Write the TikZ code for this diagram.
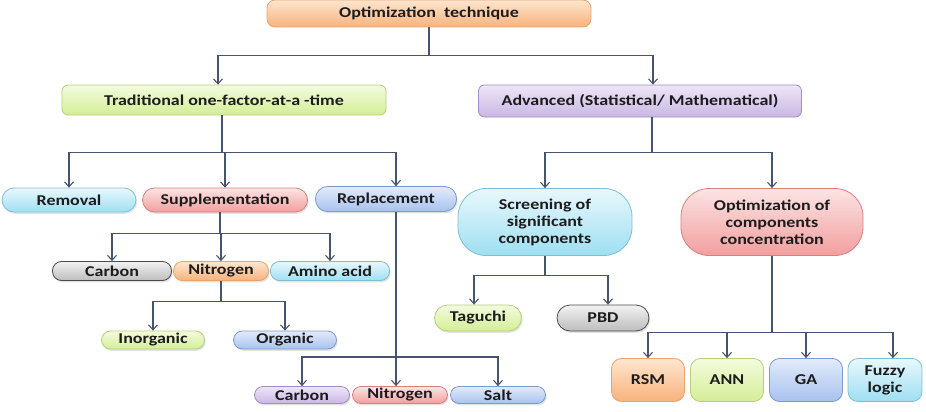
\documentclass[tikz,border=0pt]{standalone}
\usepackage{fontspec}
\setmainfont{Carlito}[FakeStretch=1.2]
\usetikzlibrary{shadows,arrows.meta}

\definecolor{linec}{HTML}{46546E}
\definecolor{txtc}{HTML}{1C1C1C}
\definecolor{orange-t}{HTML}{FDE6CF}\definecolor{orange-b}{HTML}{F8B27C}\definecolor{orange-d}{HTML}{E8A46C}
\definecolor{green-t}{HTML}{F4FBDF}\definecolor{green-b}{HTML}{D4EE96}\definecolor{green-d}{HTML}{B5CF7F}
\definecolor{purple-t}{HTML}{EEE6F7}\definecolor{purple-b}{HTML}{C9B7E4}\definecolor{purple-d}{HTML}{A08CC6}
\definecolor{cyan-t}{HTML}{E8F8FC}\definecolor{cyan-b}{HTML}{9EDFF2}\definecolor{cyan-d}{HTML}{7EBFD2}
\definecolor{pink-t}{HTML}{FCE4E4}\definecolor{pink-b}{HTML}{F29E9E}\definecolor{pink-d}{HTML}{D88080}
\definecolor{blue-t}{HTML}{E2EBFA}\definecolor{blue-b}{HTML}{A8C2EE}\definecolor{blue-d}{HTML}{7E9ACB}
\definecolor{gray-t}{HTML}{F2F2F2}\definecolor{gray-b}{HTML}{BDBDBD}\definecolor{gray-d}{HTML}{4A4A4A}

\tikzset{
  box/.style={draw, line width=0.8pt, rounded corners=6pt, inner sep=0pt, text=txtc,
    font=\bfseries\fontsize{15}{17}\selectfont, align=center,
    drop shadow={shadow xshift=1.2pt, shadow yshift=-1.8pt, opacity=0.22}},
  pill/.style={box, rounded corners=#1},
  pill/.default=9pt,
  fill-in/.style={top color=#1-t, bottom color=#1-b, draw=#1-d},
  link/.style={-{Straight Barb[length=5pt,width=9pt]}, draw=linec, line width=1.1pt}
}

\begin{document}
\begin{tikzpicture}[x=1pt, y=-1pt]
    \useasboundingbox (0,0) rectangle (926,412);
    \begin{scope}[box]
      \node[fill-in=orange, minimum width=324, minimum height=27, rounded corners=8pt] (opt) at (429,13.5) {Optimization\ \ technique};
      \node[fill-in=green, minimum width=324, minimum height=30] (trad) at (224,100) {Traditional one-factor-at-a -time};
      \node[fill-in=purple, minimum width=323, minimum height=32] (adv) at (640,101) {Advanced (Statistical/ Mathematical)};

      \node[pill=12pt, fill-in=cyan, minimum width=134, minimum height=24] (removal) at (69,200) {Removal};
      \node[pill=12pt, fill-in=pink, minimum width=165, minimum height=24] (supp) at (225,200) {Supplementation};
      \node[pill=12pt, fill-in=blue, minimum width=141, minimum height=25] (repl) at (386,199) {Replacement};

      \node[fill-in=cyan, minimum width=174, minimum height=67, rounded corners=28pt] (screen) at (545,222) {Screening of\\significant\\components};
      \node[fill-in=pink, minimum width=182, minimum height=67, rounded corners=28pt] (conc) at (772,222) {Optimization of\\components\\concentration};

      \node[pill, fill-in=gray, minimum width=119, minimum height=19] (carbon) at (112,271) {Carbon};
      \node[pill, fill-in=orange, minimum width=95, minimum height=19] (nitrogen) at (221,271) {Nitrogen};
      \node[pill, fill-in=cyan, minimum width=119, minimum height=19] (amino) at (330,271) {Amino acid};

      \node[pill, fill-in=green, minimum width=103, minimum height=18] (inorg) at (153,340) {Inorganic};
      \node[pill, fill-in=blue, minimum width=103, minimum height=18] (org) at (285,340) {Organic};

      \node[pill=8.5pt, fill-in=purple, minimum width=95, minimum height=17] (carbon-r) at (302,395) {Carbon};
      \node[pill=8.5pt, fill-in=pink, minimum width=95, minimum height=17] (nitrogen-r) at (400,395) {Nitrogen};
      \node[pill=8.5pt, fill-in=blue, minimum width=95, minimum height=17] (salt) at (498,395) {Salt};

      \node[pill=13pt, fill-in=green, minimum width=87, minimum height=26] (taguchi) at (478,318) {Taguchi};
      \node[pill=13pt, fill-in=gray, minimum width=92, minimum height=26] (pbd) at (603,318) {PBD};

      \node[fill-in=orange, minimum width=73, minimum height=43, rounded corners=10pt] (rsm) at (648,380) {RSM};
      \node[fill-in=green, minimum width=73, minimum height=43, rounded corners=10pt] (ann) at (727,380) {ANN};
      \node[fill-in=blue, minimum width=73, minimum height=43, rounded corners=10pt] (ga) at (806,380) {GA};
      \node[fill-in=cyan, minimum width=74, minimum height=43, rounded corners=10pt] (fuzzy) at (885,380) {Fuzzy\\logic};
    \end{scope}
    \coordinate (replbar) at (396,357);

    \draw[link] (opt.south) -- ++(0,28) -| ([xshift=-6pt]trad.north);
    \draw[link] (opt.south) -- ++(0,28) -| ([xshift=13pt]adv.north);

    \draw[link] ([xshift=-2pt]trad.south) -- ++(0,37) -| (removal.north);
    \draw[link] ([xshift=-2pt]trad.south) -- ++(0,37) -| (supp.north);
    \draw[link] ([xshift=-2pt]trad.south) -- ++(0,37) -| ([xshift=10pt]repl.north);

    \draw[link] ([xshift=-5pt]supp.south) -- ++(0,21) -| (carbon.north);
    \draw[link] ([xshift=-5pt]supp.south) -- ++(0,21) -| (nitrogen.north);
    \draw[link] ([xshift=-5pt]supp.south) -- ++(0,21) -| (amino.north);

    \draw[link] (nitrogen.south) -- ++(0,21) -| (inorg.north);
    \draw[link] (nitrogen.south) -- ++(0,21) -| (org.north);

    \draw[link] ([xshift=10pt]repl.south) -- ([xshift=10pt]repl.south |- nitrogen-r.north);
    \draw[link] (replbar) -| (carbon-r.north);
    \draw[link] (replbar) -| (salt.north);

    \draw[link] ([xshift=12pt]adv.south) -- ++(0,35) -| (screen.north);
    \draw[link] ([xshift=12pt]adv.south) -- ++(0,35) -| (conc.north);

    \draw[link] (screen.south) -- ++(0,20) -| ([xshift=-4pt]taguchi.north);
    \draw[link] (screen.south) -- ++(0,20) -| ([xshift=5pt]pbd.north);

    \draw[link] (conc.south) -- ++(0,77) -| (rsm.north);
    \draw[link] (conc.south) -- ++(0,77) -| (ann.north);
    \draw[link] (conc.south) -- ++(0,77) -| (ga.north);
    \draw[link] (conc.south) -- ++(0,77) -| ([xshift=8pt]fuzzy.north);
\end{tikzpicture}
\end{document}
